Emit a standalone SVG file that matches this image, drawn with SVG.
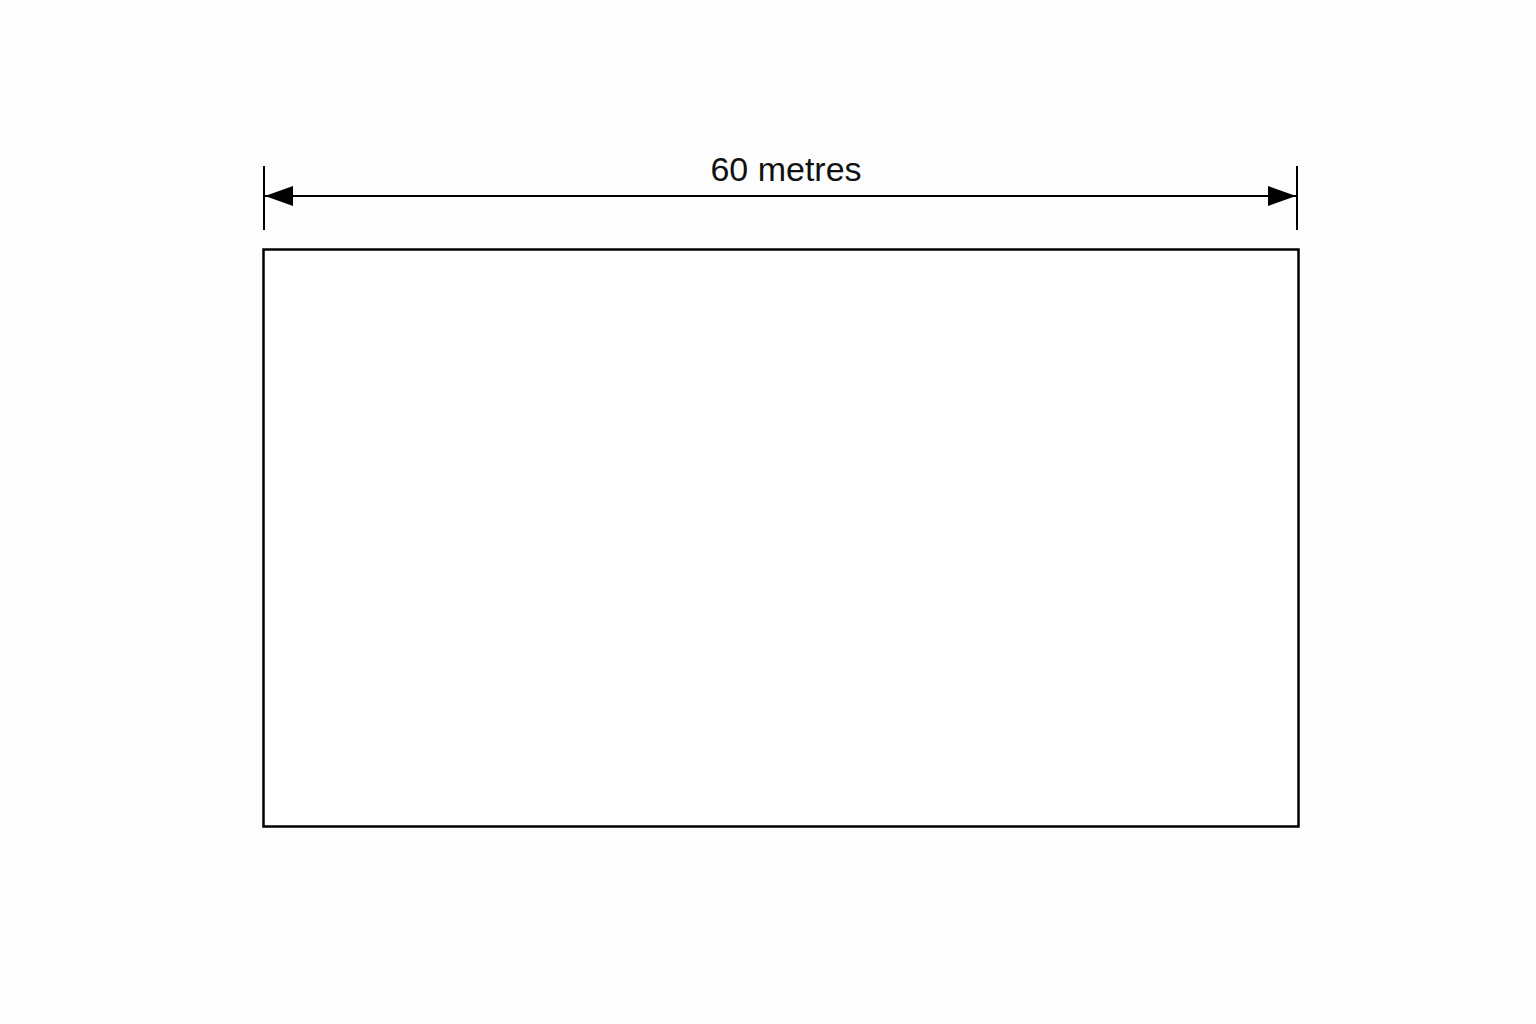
<svg xmlns="http://www.w3.org/2000/svg" width="1536" height="1024" viewBox="0 0 1536 1024">
  <style>
    .ln { stroke: #000; fill: none; }
    .lbl { font-family: "Liberation Sans", Arial, sans-serif; font-size: 34px; fill: #111; }
  </style>
  <defs>
    <marker id="arrowEnd" markerWidth="28" markerHeight="20" refX="28" refY="10" orient="auto" markerUnits="userSpaceOnUse">
      <path d="M0,0 L28,10 L0,20 Z" fill="#000"/>
    </marker>
    <marker id="arrowStart" markerWidth="28" markerHeight="20" refX="0" refY="10" orient="auto" markerUnits="userSpaceOnUse">
      <path d="M28,0 L0,10 L28,20 Z" fill="#000"/>
    </marker>
  </defs>
  <rect width="1536" height="1024" fill="#fdfdfd"/>
  <g id="field">
    <rect x="263.5" y="249.5" width="1035" height="577" fill="#fff" stroke="#000" stroke-width="2.5"/>
  </g>
  <g id="dimension">
    <line class="ln" x1="264" y1="166" x2="264" y2="230" stroke-width="2"/>
    <line class="ln" x1="1297" y1="166" x2="1297" y2="230" stroke-width="2"/>
    <line class="ln" x1="265" y1="196" x2="1296" y2="196" stroke-width="2" marker-start="url(#arrowStart)" marker-end="url(#arrowEnd)"/>
    <text class="lbl" x="786" y="181" text-anchor="middle">60 metres</text>
  </g>
</svg>
